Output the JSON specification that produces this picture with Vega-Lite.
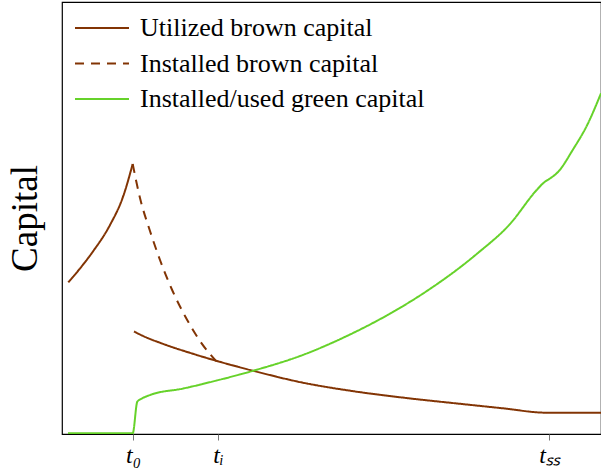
{
  "$schema": "https://vega.github.io/schema/vega-lite/v6.json",
  "width": 539,
  "height": 432,
  "autosize": {"type": "none"},
  "padding": {"left": 62, "top": 2, "right": 0, "bottom": 41},
  "background": "white",
  "config": {
    "view": {"stroke": "black", "strokeWidth": 1.2},
    "font": "Liberation Serif",
    "legend": {"labelFont": "Liberation Serif", "labelFontSize": 26, "labelColor": "black"}
  },
  "data": {
    "values": [
      {"series": "Utilized brown capital", "seg": "a", "t": 6.3, "k": 151.7},
      {"series": "Utilized brown capital", "seg": "a", "t": 20, "k": 168},
      {"series": "Utilized brown capital", "seg": "a", "t": 31.3, "k": 183},
      {"series": "Utilized brown capital", "seg": "a", "t": 48, "k": 209},
      {"series": "Utilized brown capital", "seg": "a", "t": 61.3, "k": 238},
      {"series": "Utilized brown capital", "seg": "a", "t": 70.7, "k": 270},
      {"series": "Utilized brown capital", "seg": "b", "t": 72, "k": 102.5},
      {"series": "Utilized brown capital", "seg": "b", "t": 80, "k": 98.5},
      {"series": "Utilized brown capital", "seg": "b", "t": 100, "k": 90.5},
      {"series": "Utilized brown capital", "seg": "b", "t": 130, "k": 80.5},
      {"series": "Utilized brown capital", "seg": "b", "t": 155, "k": 73},
      {"series": "Utilized brown capital", "seg": "b", "t": 190, "k": 63.5},
      {"series": "Utilized brown capital", "seg": "b", "t": 240, "k": 51.5},
      {"series": "Utilized brown capital", "seg": "b", "t": 290, "k": 43},
      {"series": "Utilized brown capital", "seg": "b", "t": 340, "k": 36.5},
      {"series": "Utilized brown capital", "seg": "b", "t": 400, "k": 30},
      {"series": "Utilized brown capital", "seg": "b", "t": 440, "k": 25.8},
      {"series": "Utilized brown capital", "seg": "b", "t": 484.7, "k": 21.3},
      {"series": "Utilized brown capital", "seg": "b", "t": 539, "k": 21.3},
      {"series": "Installed brown capital", "seg": "c", "t": 70.7, "k": 270},
      {"series": "Installed brown capital", "seg": "c", "t": 78, "k": 236},
      {"series": "Installed brown capital", "seg": "c", "t": 88, "k": 203},
      {"series": "Installed brown capital", "seg": "c", "t": 98, "k": 174},
      {"series": "Installed brown capital", "seg": "c", "t": 109.7, "k": 145},
      {"series": "Installed brown capital", "seg": "c", "t": 123, "k": 118},
      {"series": "Installed brown capital", "seg": "c", "t": 138, "k": 93},
      {"series": "Installed brown capital", "seg": "c", "t": 154, "k": 73},
      {"series": "Installed/used green capital", "seg": "d", "t": 6, "k": 0.7},
      {"series": "Installed/used green capital", "seg": "d", "t": 70.7, "k": 0.7},
      {"series": "Installed/used green capital", "seg": "d", "t": 75.3, "k": 32.3},
      {"series": "Installed/used green capital", "seg": "d", "t": 80, "k": 35.5},
      {"series": "Installed/used green capital", "seg": "d", "t": 88, "k": 39},
      {"series": "Installed/used green capital", "seg": "d", "t": 121.3, "k": 45.5},
      {"series": "Installed/used green capital", "seg": "d", "t": 154.7, "k": 53.5},
      {"series": "Installed/used green capital", "seg": "d", "t": 191.3, "k": 63.3},
      {"series": "Installed/used green capital", "seg": "d", "t": 238, "k": 78},
      {"series": "Installed/used green capital", "seg": "d", "t": 288, "k": 99.5},
      {"series": "Installed/used green capital", "seg": "d", "t": 324.7, "k": 118.5},
      {"series": "Installed/used green capital", "seg": "d", "t": 358, "k": 138.5},
      {"series": "Installed/used green capital", "seg": "d", "t": 414.7, "k": 180},
      {"series": "Installed/used green capital", "seg": "d", "t": 448, "k": 210},
      {"series": "Installed/used green capital", "seg": "d", "t": 474.7, "k": 244},
      {"series": "Installed/used green capital", "seg": "d", "t": 482, "k": 251.5},
      {"series": "Installed/used green capital", "seg": "d", "t": 488, "k": 255.5},
      {"series": "Installed/used green capital", "seg": "d", "t": 496, "k": 262},
      {"series": "Installed/used green capital", "seg": "d", "t": 511.3, "k": 285},
      {"series": "Installed/used green capital", "seg": "d", "t": 524.7, "k": 308},
      {"series": "Installed/used green capital", "seg": "d", "t": 539, "k": 340.7}
    ]
  },
  "mark": {"type": "line", "strokeWidth": 2, "interpolate": "monotone", "clip": true},
  "encoding": {
    "x": {
      "field": "t", "type": "quantitative",
      "scale": {"domain": [0, 539], "nice": false, "zero": false},
      "axis": {
        "title": null, "grid": false, "domain": false,
        "values": [71, 156, 487],
        "labelExpr": "datum.value == 71 ? 't\u2080' : datum.value == 156 ? 't\u1d62' : 't\u209b\u209b'",
        "labelFont": "Liberation Serif", "labelFontStyle": "italic", "labelFontSize": 24,
        "labelColor": "black", "labelPadding": 3,
        "tickSize": 6, "tickColor": "#777777", "tickWidth": 1
      }
    },
    "y": {
      "field": "k", "type": "quantitative",
      "scale": {"domain": [0, 432], "nice": false, "zero": false},
      "axis": {
        "title": "Capital", "grid": false, "domain": false, "labels": false, "ticks": false,
        "titleFont": "Liberation Serif", "titleFontSize": 37, "titleFontWeight": "normal",
        "titleColor": "black", "titlePadding": 18
      }
    },
    "color": {
      "field": "series", "type": "nominal",
      "scale": {
        "domain": ["Utilized brown capital", "Installed brown capital", "Installed/used green capital"],
        "range": ["#823404", "#823404", "#66d22a"]
      },
      "legend": {
        "title": null, "orient": "none", "legendX": 27, "legendY": 13,
        "symbolType": "M-2.7,0H2.7", "symbolSize": 400, "symbolStrokeWidth": 2,
        "labelFont": "Liberation Serif", "labelFontSize": 26, "labelColor": "black",
        "labelOffset": 25, "rowPadding": 9.5, "labelLimit": 500,
        "encode": {
          "symbols": {"update": {"strokeDash": {"signal": "datum.value == 'Installed brown capital' ? [9, 7] : [1, 0]"}}}
        }
      }
    },
    "strokeDash": {
      "field": "series", "type": "nominal",
      "scale": {
        "domain": ["Utilized brown capital", "Installed brown capital", "Installed/used green capital"],
        "range": [[1, 0], [9, 7], [1, 0]]
      },
      "legend": null
    },
    "detail": {"field": "seg", "type": "nominal"}
  }
}
